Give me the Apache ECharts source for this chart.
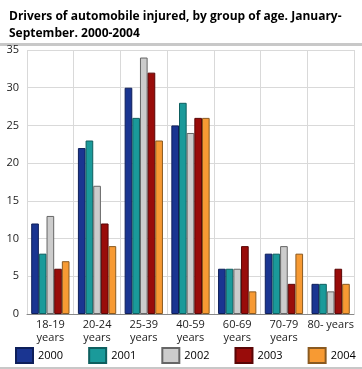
<!DOCTYPE html>
<html><head><meta charset="utf-8">
<script src="https://cdn.jsdelivr.net/npm/echarts@6/dist/echarts.min.js"></script>
<style>html,body{margin:0;padding:0;background:#fff}#c{width:362px;height:369px}</style>
</head><body><div id="c"></div>
<script>
var categories = ['18-19\nyears','20-24\nyears','25-39\nyears','40-59\nyears','60-69\nyears','70-79\nyears','80- years'];
var years = ['2000','2001','2002','2003','2004'];
var s2000 = [12,22,30,25,6,8,4];
var s2001 = [8,23,26,28,6,8,4];
var s2002 = [13,17,34,24,6,9,3];
var s2003 = [6,12,32,26,9,4,6];
var s2004 = [7,9,23,26,3,8,4];
var colors = ['#1a3591','#1a9a9a','#cccccc','#990c0a','#f79a33'];
var borders = ['#0e1f5a','#0e5f5f','#666666','#5a0606','#8a5a20'];
var data = [s2000,s2001,s2002,s2003,s2004];
var chart = echarts.init(document.getElementById('c'));
var font = '"Open Sans", "DejaVu Sans", sans-serif';
chart.setOption({
  animation:false,
  title:{text:'Drivers of automobile injured, by group of age. January-\nSeptember. 2000-2004',left:4,top:3,
    textStyle:{fontFamily:font,fontWeight:'bold',fontSize:12,lineHeight:17,color:'#000'}},
  graphic:[
    {type:'rect',shape:{x:0,y:43,width:362,height:3},style:{fill:'#c8c8c8'}},
    {type:'rect',shape:{x:0,y:367,width:362,height:2},style:{fill:'#c8c8c8'}}
  ],
  legend:{left:15,top:347,padding:0,itemWidth:17,itemHeight:15,itemGap:25,icon:'rect',
    textStyle:{fontFamily:font,fontSize:11,color:'#000'},data:years},
  grid:{left:27,right:8,top:50,bottom:55},
  xAxis:{type:'category',data:categories,
    axisLine:{lineStyle:{color:'#888'}},axisTick:{show:false},
    splitLine:{show:true,lineStyle:{color:'#d9d9d9',width:1}},
    axisLabel:{fontFamily:font,fontSize:11,color:'#222',lineHeight:13,margin:4,interval:0}},
  yAxis:{type:'value',min:0,max:35,interval:5,
    axisLine:{show:false},axisTick:{show:false},
    splitLine:{lineStyle:{color:'#d9d9d9'}},
    axisLabel:{fontFamily:font,fontSize:11,color:'#222',margin:8}},
  series:years.map(function(y,i){return {name:y,type:'bar',data:data[i],barGap:'0%',barCategoryGap:'18%',
    itemStyle:{color:colors[i],borderColor:borders[i],borderWidth:1}};})
});
</script></body></html>
